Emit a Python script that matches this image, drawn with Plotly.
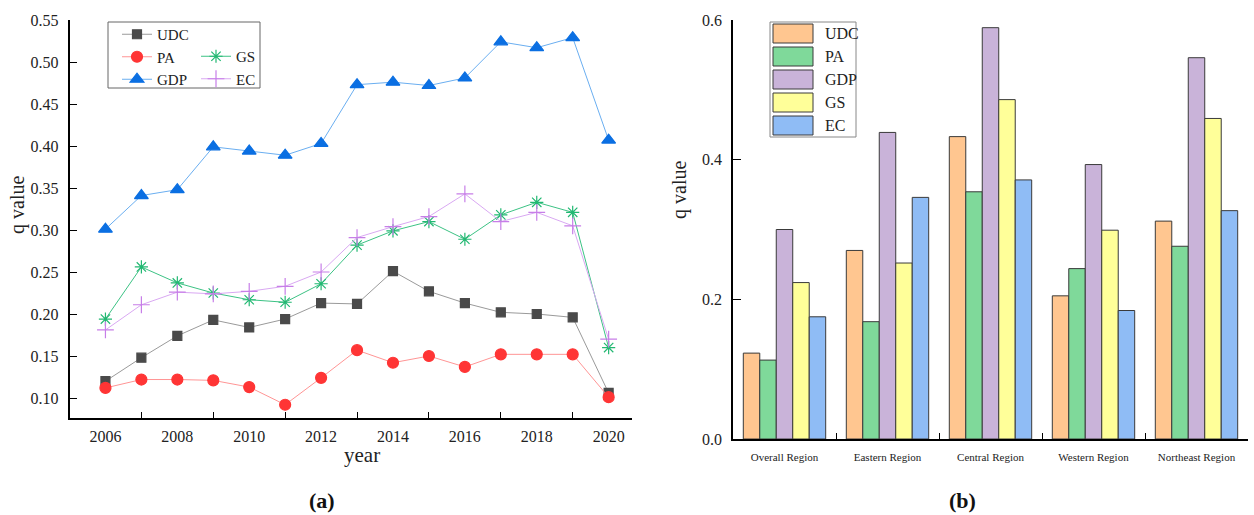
import plotly.graph_objects as go

W, H = 1254, 515
def px(x): return x / W
def py(y): return 1 - y / H

# ---------------- data ----------------
years = list(range(2006, 2021))
udc = [0.120, 0.148, 0.174, 0.193, 0.184, 0.194, 0.213, 0.212, 0.251, 0.227, 0.213, 0.202, 0.200, 0.196, 0.106]
pa  = [0.112, 0.122, 0.122, 0.121, 0.113, 0.092, 0.124, 0.157, 0.142, 0.150, 0.137, 0.152, 0.152, 0.152, 0.101]
gdp = [0.301, 0.341, 0.348, 0.399, 0.394, 0.389, 0.403, 0.473, 0.476, 0.472, 0.481, 0.524, 0.517, 0.529, 0.407]
gs  = [0.194, 0.256, 0.237, 0.225, 0.217, 0.214, 0.236, 0.282, 0.299, 0.310, 0.289, 0.318, 0.333, 0.321, 0.160]
ec  = [0.181, 0.211, 0.226, 0.224, 0.227, 0.233, 0.250, 0.291, 0.304, 0.316, 0.343, 0.310, 0.321, 0.305, 0.170]

regions = ["Overall Region", "Eastern Region", "Central Region", "Western Region", "Northeast Region"]
bar_udc = [0.123, 0.270, 0.433, 0.205, 0.312]
bar_pa  = [0.113, 0.168, 0.354, 0.244, 0.276]
bar_gdp = [0.300, 0.439, 0.589, 0.393, 0.546]
bar_gs  = [0.224, 0.252, 0.486, 0.299, 0.459]
bar_ec  = [0.175, 0.346, 0.371, 0.184, 0.327]

year_ticks = [2006, 2008, 2010, 2012, 2014, 2016, 2018, 2020]
left_yticks = [0.10, 0.15, 0.20, 0.25, 0.30, 0.35, 0.40, 0.45, 0.50, 0.55]
right_yticks = [0.0, 0.2, 0.4, 0.6]

SERIF = "Liberation Serif"

fig = go.Figure()

line_specs = [
    ("UDC", udc, "square", 9, "#4a4a4a", "#9a9a9a", "legend"),
    ("PA", pa, "circle", 11, "#ff3535", "#ff9595", "legend"),
    ("GDP", gdp, "triangle-up", 12, "#0b6fe2", "#6aaef0", "legend"),
    ("GS", gs, "asterisk-open", 11, "#22b872", "#3cc284", "legend2"),
    ("EC", ec, "cross-thin-open", 12, "#c77ee8", "#d9a8f2", "legend2"),
]
for name, vals, sym, size, mcol, lcol, leg in line_specs:
    fig.add_trace(go.Scatter(
        x=years, y=vals, name=name, mode="lines+markers",
        line=dict(color=lcol, width=1),
        marker=dict(symbol=sym, size=size, color=mcol, line=dict(color=mcol, width=1.2)),
        xaxis="x", yaxis="y", legend=leg,
    ))

bar_specs = [
    ("UDC", bar_udc, "#ffc690"),
    ("PA", bar_pa, "#7fd99a"),
    ("GDP", bar_gdp, "#c9b3d9"),
    ("GS", bar_gs, "#ffff99"),
    ("EC", bar_ec, "#8fbcf5"),
]
for name, vals, col in bar_specs:
    fig.add_trace(go.Bar(
        x=regions, y=vals, name=name, marker=dict(color=col, line=dict(color="#3a3a3a", width=1)),
        xaxis="x2", yaxis="y2", showlegend=False,
    ))

axis_common = dict(showgrid=False, zeroline=False, showline=True, linecolor="black", linewidth=1.6,
                   tickcolor="black", mirror=False, automargin=False)

fig.update_layout(
    width=W, height=H, margin=dict(l=0, r=0, t=0, b=0, pad=0, autoexpand=False),
    plot_bgcolor="white", paper_bgcolor="white",
    barmode="group", bargap=0.2, bargroupgap=0,
    font=dict(family=SERIF, color="#222"),
    xaxis=dict(domain=[px(69.5), px(632)], range=[2005, 2020.65], anchor="y",
               tickvals=year_ticks, ticktext=[str(y) for y in year_ticks], ticks="",
               ticklabelstandoff=3, tickfont=dict(family=SERIF, size=16, color="#222"),
               minor=dict(tickvals=[2007, 2009, 2011, 2013, 2015, 2017, 2019], ticks="inside",
                          ticklen=6, tickcolor="black", tickwidth=1),
               **axis_common),
    yaxis=dict(domain=[py(418), py(20)], range=[0.0762, 0.55], anchor="x",
               tickvals=left_yticks, ticktext=["%.2f" % v for v in left_yticks],
               ticks="inside", ticklen=8, tickwidth=1, ticklabelstandoff=6,
               tickfont=dict(family=SERIF, size=16, color="#222"), **axis_common),
    xaxis2=dict(domain=[px(733), px(1248)], anchor="y2", type="category",
                tickson="boundaries", ticks="inside", ticklen=6, tickwidth=1,
                ticklabelstandoff=7, tickfont=dict(family=SERIF, size=11, color="#222"),
                **axis_common),
    yaxis2=dict(domain=[py(439), py(20)], range=[0, 0.6], anchor="x2",
                tickvals=right_yticks, ticktext=["%.1f" % v for v in right_yticks],
                ticks="inside", ticklen=8, tickwidth=1, ticklabelstandoff=6,
                tickfont=dict(family=SERIF, size=16, color="#222"), **axis_common),
    legend=dict(x=px(117), y=py(18), xanchor="left", yanchor="top", bgcolor="rgba(0,0,0,0)",
                borderwidth=0, font=dict(family=SERIF, size=15, color="#222"), tracegroupgap=0),
    legend2=dict(x=px(196), y=py(40), xanchor="left", yanchor="top", bgcolor="rgba(0,0,0,0)",
                 borderwidth=0, font=dict(family=SERIF, size=15, color="#222"), tracegroupgap=0),
)

shapes = [dict(type="rect", xref="paper", yref="paper", x0=px(108), x1=px(260), y0=py(88), y1=py(22),
               line=dict(color="#666", width=1), fillcolor="rgba(0,0,0,0)")]
annotations = []
# custom legend for bar chart
shapes.append(dict(type="rect", xref="paper", yref="paper", x0=px(770), x1=px(856), y0=py(137), y1=py(22),
                   line=dict(color="#888", width=1), fillcolor="white"))
for i, (name, vals, col) in enumerate(bar_specs):
    top = 24 + i * 23
    shapes.append(dict(type="rect", xref="paper", yref="paper", x0=px(773), x1=px(813),
                       y0=py(top + 19), y1=py(top), fillcolor=col, line=dict(color="#3a3a3a", width=1)))
    annotations.append(dict(x=px(823), y=py(top + 9.5), xref="paper", yref="paper", text=name,
                            showarrow=False, xanchor="left", yanchor="middle",
                            font=dict(family=SERIF, size=16, color="#222")))

annotations += [
    dict(x=px(17), y=py(205), xref="paper", yref="paper", text="q value", textangle=-90, showarrow=False,
         xanchor="center", yanchor="middle", font=dict(family=SERIF, size=20, color="#222")),
    dict(x=px(362), y=py(455), xref="paper", yref="paper", text="year", showarrow=False,
         xanchor="center", yanchor="middle", font=dict(family=SERIF, size=21, color="#222")),
    dict(x=px(679), y=py(190), xref="paper", yref="paper", text="q value", textangle=-90, showarrow=False,
         xanchor="center", yanchor="middle", font=dict(family=SERIF, size=20, color="#222")),
    dict(x=px(322), y=py(500), xref="paper", yref="paper", text="<b>(a)</b>", showarrow=False,
         xanchor="center", yanchor="middle", font=dict(family=SERIF, size=22, color="#111")),
    dict(x=px(962), y=py(500), xref="paper", yref="paper", text="<b>(b)</b>", showarrow=False,
         xanchor="center", yanchor="middle", font=dict(family=SERIF, size=22, color="#111")),
]
fig.update_layout(shapes=shapes, annotations=annotations)

fig.write_html("out.html", config={"displayModeBar": False},
               post_script="document.body.style.margin='0';document.body.style.overflow='hidden';")
